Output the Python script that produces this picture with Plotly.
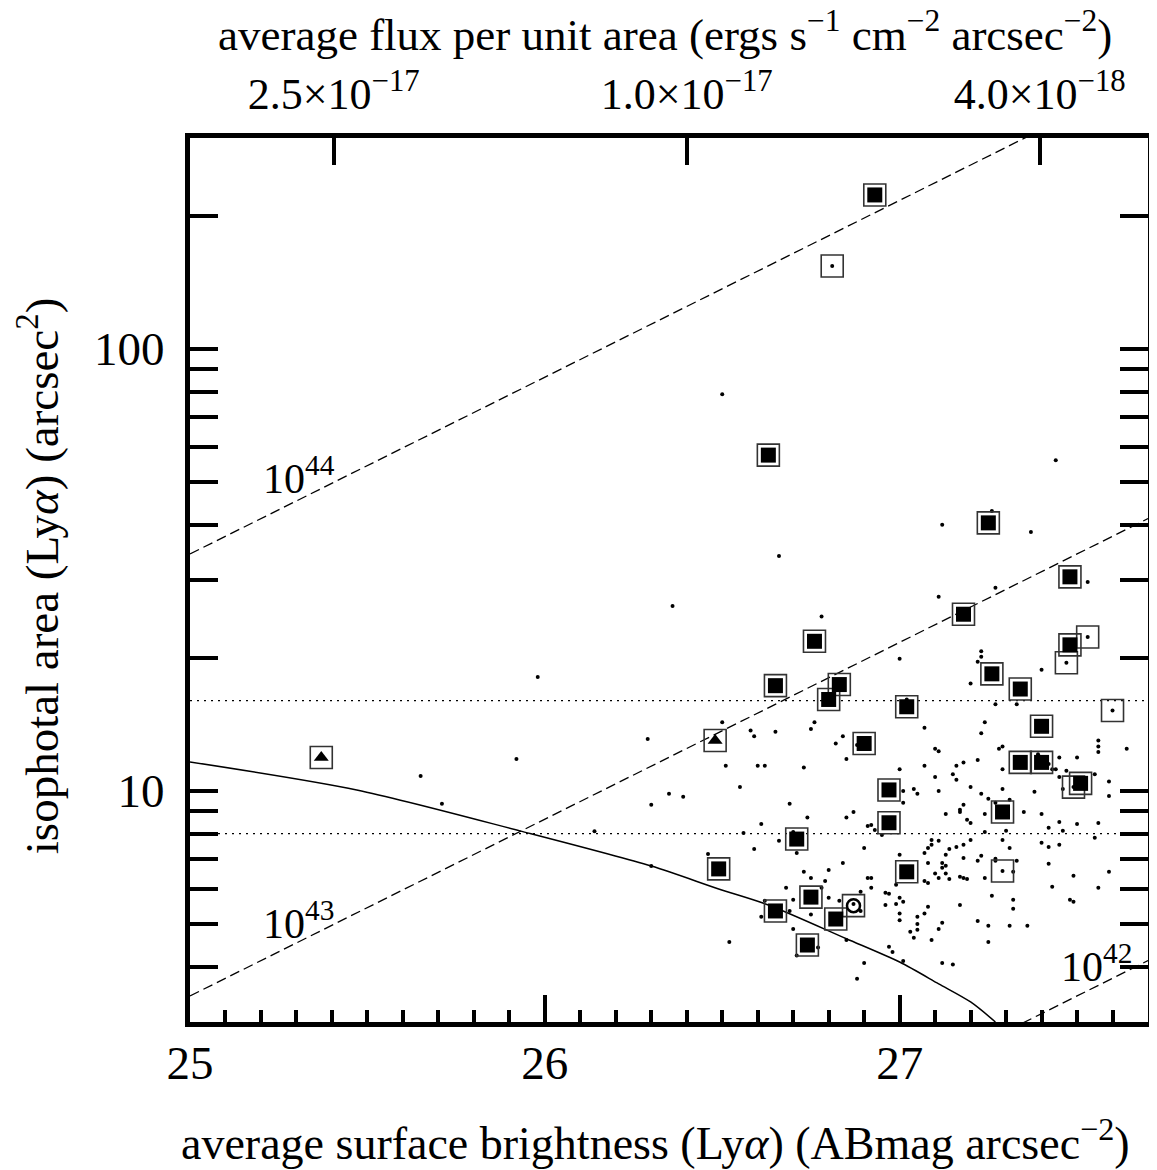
import numpy as np
import plotly.graph_objects as go

# ---------------- data ----------------
dot_mag = [
26.50, 26.66, 26.36, 27.44, 27.12, 27.26, 27.37, 27.11, 27.27, 27.53,
25.98, 26.29, 25.92, 26.35, 26.39, 26.30, 26.14, 25.65, 25.71, 26.30,
26.46, 26.78, 27.00, 26.50, 26.58, 26.59, 26.65, 26.76, 26.75, 26.84,
26.82, 26.88, 26.85, 26.51, 26.60, 26.62, 26.73, 27.00, 26.55, 27.01,
27.04, 27.05, 27.01, 26.69, 26.87, 26.74, 26.85, 26.61, 26.91, 26.92,
26.93, 26.95, 26.56, 26.66, 26.70, 26.90, 26.59, 27.23, 27.23, 27.22,
27.40, 27.20, 27.02, 27.27, 27.33, 27.24, 27.07, 27.23, 27.56, 27.56,
27.56, 27.64, 27.10, 27.11, 27.29, 27.28, 27.39, 27.45, 27.50, 27.22,
27.18, 27.16, 27.07, 27.29, 27.42, 27.43, 27.44, 27.47, 27.55, 27.15,
27.10, 27.16, 27.45, 27.59, 27.20, 27.46, 27.49, 27.29, 27.11, 27.38,
27.23, 27.59, 27.25, 27.27, 27.31, 27.18, 27.17, 27.17, 27.13, 27.24,
27.35, 27.40, 27.19, 27.20, 27.45, 27.56, 27.50, 27.42, 27.46, 27.24,
27.30, 27.55, 27.09, 27.11, 27.09, 27.08, 27.18, 27.16, 27.20, 27.29,
27.40, 27.42, 27.45, 27.31, 27.14, 26.71, 27.00, 26.84, 26.80, 26.73,
26.75, 26.79, 26.91, 26.92, 26.92, 26.99, 26.78, 26.68, 26.89, 26.96,
26.97, 27.00, 27.01, 26.99, 26.96, 26.80, 26.83, 26.70, 26.62, 26.69,
26.87, 26.89, 26.61, 26.75, 27.00, 27.00, 26.70, 27.03, 27.04, 27.05,
27.05, 27.05, 26.85, 26.52, 26.77, 26.71, 26.97, 26.98, 27.01, 26.90,
26.88, 27.07, 27.13, 27.23, 27.22, 27.18, 27.08, 27.12, 27.13, 27.12,
27.27, 27.27, 27.33, 27.42, 27.10, 27.11, 27.13, 27.14, 27.17, 27.18,
27.19, 27.24, 27.29, 27.32, 27.49, 27.59, 27.07, 27.08, 27.43, 27.56,
27.26, 27.32, 27.48, 27.49, 27.17, 27.08, 27.32, 27.07, 27.12, 27.11,
27.22, 27.25, 27.31, 27.36, 27.09, 27.25, 27.12, 27.15,
26.81, 27.53, 27.47, 27.60]

dot_area = [
79, 34.0, 26.2, 56, 40.0, 43.0, 38.5, 27.5, 28.8, 29.7,
18.1, 13.1, 11.8, 9.85, 9.7, 9.3, 8.1, 10.8, 9.35, 6.76,
7.2, 24.8, 19.9, 14.3, 13.7, 13.3, 13.6, 14.3, 13.8, 13.3,
12.8, 12.7, 11.8, 11.4, 11.4, 11.4, 11.3, 11.2, 10.2, 10.0,
10.1, 9.85, 9.4, 9.35, 8.96, 8.7, 8.7, 8.42, 8.33, 8.37,
8.16, 7.95, 8.03, 7.71, 8.07, 7.43, 7.39, 20.7, 20.1, 19.6,
18.8, 17.5, 16.1, 15.7, 15.7, 14.3, 13.9, 13.5, 13.0, 12.6,
12.25, 12.45, 12.45, 12.3, 12.6, 12.45, 12.1, 11.9, 11.9, 11.75,
11.6, 11.4, 11.4, 11.2, 11.5, 11.2, 11.2, 11.1, 10.9, 10.9,
10.75, 10.6, 10.75, 10.5, 10.2, 10.1, 10.2, 10.1, 10.0, 9.95,
9.85, 9.74, 9.6, 9.4, 9.55, 9.3, 9.06, 8.96, 8.87, 8.87,
8.96, 8.87, 8.6, 8.46, 8.5, 8.46, 8.42, 8.25, 8.12, 8.07,
8.12, 7.83, 7.74, 7.71, 7.55, 7.43, 7.55, 7.47, 7.74, 7.74,
7.63, 7.47, 7.55, 7.43, 7.39, 7.24, 7.17, 6.87, 6.62, 6.56,
6.35, 6.25, 6.35, 6.35, 6.04, 6.13, 6.04, 6.04, 5.91, 5.88,
5.85, 5.73, 5.61, 5.55, 5.52, 5.73, 5.64, 5.67, 5.64, 5.35,
5.55, 5.35, 5.19, 5.25, 5.28, 5.1, 4.87, 4.80, 4.65, 5.19,
5.0, 4.85, 4.6, 4.55, 4.42, 4.24, 4.44, 4.32, 4.12, 4.08,
3.76, 7.24, 7.17, 7.13, 6.95, 7.05, 6.87, 6.87, 6.77, 6.70,
7.02, 6.95, 6.95, 6.84, 6.5, 6.35, 6.5, 6.32, 6.39, 6.35,
6.32, 6.35, 6.59, 6.56, 6.43, 6.56, 6.25, 6.19, 6.07, 6.04,
5.79, 5.67, 5.67, 5.61, 5.52, 5.47, 5.41, 5.28, 5.03, 4.87,
5.08, 4.95, 4.95, 4.95, 4.6, 4.55, 4.08, 4.05,
154, 22.3, 19.5, 15.2]

# filled squares (each enclosed by an open square)
filled_mag = [26.93, 26.63, 27.25, 27.48, 27.18, 27.48, 26.76, 26.65, 26.83, 26.80,
              27.26, 27.34, 27.02, 27.40, 26.90, 27.34, 27.40, 26.97, 27.51, 27.29,
              26.97, 26.71, 26.49, 27.02, 26.75, 26.65, 26.82, 26.74]
filled_area = [223, 57.5, 40.4, 30.5, 25.1, 21.4, 21.8, 17.3, 17.4, 16.1,
               18.4, 17.0, 15.5, 14.0, 12.8, 11.6, 11.6, 10.05, 10.4, 8.96,
               8.47, 7.78, 6.66, 6.56, 5.75, 5.35, 5.13, 4.48]

# open squares surrounding plain dots
open_mag = [26.81, 27.53, 27.47, 27.60, 27.49, 27.29]
open_area = [154, 22.3, 19.5, 15.2, 10.2, 6.59]

# triangles (enclosed by open squares)
tri_mag = [26.48, 25.37]
tri_area = [13.0, 11.9]

# circle (enclosed by open square)
circ_mag = [26.87]
circ_area = [5.50]

# limiting curve
curve_mag = [25.00, 25.47, 25.93, 26.30, 26.49, 26.63, 26.85, 27.00, 27.11, 27.20, 27.27]
curve_area = [11.63, 10.05, 8.12, 6.76, 6.0, 5.52, 4.63, 4.10, 3.66, 3.33, 3.0]

# constant-luminosity lines: log10(area) = 0.4*(mag-25) + intercept
lum_exp = [42, 43, 44]
lum_intercept_43 = 0.536

# horizontal dotted reference areas
ref_areas = [16, 8]

# top-axis flux ticks (ergs s^-1 cm^-2 arcsec^-2)
flux_ticks = [2.5e-17, 1.0e-17, 4.0e-18]
flux_labels = ["2.5×10<sup>−17</sup>", "1.0×10<sup>−17</sup>", "4.0×10<sup>−18</sup>"]
mag_of_1e17 = 26.4

xr = [25.0, 27.7]
yr = [3.0, 300.0]

FONT = "Liberation Serif, Times New Roman, serif"

fig = go.Figure()

xx = np.array(xr)
for e in lum_exp:
    c = lum_intercept_43 + (e - 43)
    fig.add_trace(go.Scatter(x=xx, y=10 ** (0.4 * (xx - 25) + c), mode="lines",
                             line=dict(color="black", width=1.3, dash="10px,5px"),
                             hoverinfo="skip", showlegend=False))
for a in ref_areas:
    fig.add_trace(go.Scatter(x=xx, y=[a, a], mode="lines",
                             line=dict(color="black", width=1.3, dash="2px,5px"),
                             hoverinfo="skip", showlegend=False))
fig.add_trace(go.Scatter(x=curve_mag, y=curve_area, mode="lines",
                         line=dict(color="black", width=1.5, shape="spline", smoothing=0.8),
                         showlegend=False))

fig.add_trace(go.Scatter(x=dot_mag, y=dot_area, mode="markers",
                         marker=dict(symbol="circle", size=4, color="black"),
                         showlegend=False))

enc_mag = filled_mag + open_mag + tri_mag + circ_mag
enc_area = filled_area + open_area + tri_area + circ_area
fig.add_trace(go.Scatter(x=enc_mag, y=enc_area, mode="markers",
                         marker=dict(symbol="square-open", size=22, color="#333",
                                     line=dict(width=1.6, color="#333")),
                         showlegend=False))
fig.add_trace(go.Scatter(x=filled_mag, y=filled_area, mode="markers",
                         marker=dict(symbol="square", size=15, color="black",
                                     line=dict(width=0)),
                         showlegend=False))
fig.add_trace(go.Scatter(x=tri_mag, y=tri_area, mode="markers",
                         marker=dict(symbol="triangle-up", size=13, color="black",
                                     line=dict(width=0)),
                         showlegend=False))
fig.add_trace(go.Scatter(x=circ_mag, y=circ_area, mode="markers",
                         marker=dict(symbol="circle-open", size=13, color="black",
                                     line=dict(width=2.5, color="black")),
                         showlegend=False))

# invisible trace for the top axis
fig.add_trace(go.Scatter(x=xr, y=[10, 10], xaxis="x2", mode="markers",
                         marker=dict(opacity=0), hoverinfo="skip", showlegend=False))

flux_pos = [mag_of_1e17 - 2.5 * np.log10(f / 1e-17) for f in flux_ticks]

ann_font = dict(size=42, family=FONT, color="black")
fig.add_annotation(x=25.20, y=1.714, text="10<sup>44</sup>", showarrow=False,
                   xanchor="left", yanchor="middle", font=ann_font)
fig.add_annotation(x=25.20, y=0.706, text="10<sup>43</sup>", showarrow=False,
                   xanchor="left", yanchor="middle", font=ann_font)
fig.add_annotation(x=27.449, y=0.609, text="10<sup>42</sup>", showarrow=False,
                   xanchor="left", yanchor="middle", font=ann_font)

# axis titles placed as annotations
fig.add_annotation(xref="paper", yref="paper", x=-0.158, y=0.505,
                   text="isophotal area (Ly<i>α</i>) (arcsec<sup>2</sup>)",
                   textangle=-90, showarrow=False, xanchor="center", yanchor="middle",
                   font=dict(size=47, family=FONT, color="black"))
fig.add_annotation(xref="paper", yref="paper", x=0.4854, y=-0.1335,
                   text="average surface brightness (Ly<i>α</i>) (ABmag arcsec<sup>−2</sup>)",
                   showarrow=False, xanchor="center", yanchor="middle",
                   font=dict(size=46, family=FONT, color="black"))
fig.add_annotation(xref="paper", yref="paper", x=0.4958, y=1.1205,
                   text="average flux per unit area (ergs s<sup>−1</sup> cm<sup>−2</sup> arcsec<sup>−2</sup>)",
                   showarrow=False, xanchor="center", yanchor="middle",
                   font=dict(size=45, family=FONT, color="black"))

fig.update_layout(
    width=1149, height=1162,
    margin=dict(l=182, r=9, t=130, b=148, autoexpand=False),
    paper_bgcolor="white", plot_bgcolor="white",
    font=dict(family=FONT, color="black", size=40),
    xaxis=dict(range=xr, tickvals=[25, 26, 27], ticktext=["25", "26", "27"],
               automargin=False,
               ticks="inside", ticklen=27, tickwidth=4, tickcolor="black",
               minor=dict(dtick=0.1, tick0=25, ticks="inside", ticklen=12, tickwidth=3.5, tickcolor="black"),
               showline=True, linewidth=5, linecolor="black", mirror=True,
               showgrid=False, zeroline=False,
               tickfont=dict(size=47, family=FONT), ticklabelstandoff=-4),
    xaxis2=dict(range=xr, overlaying="x", side="top", tickvals=flux_pos, ticktext=flux_labels,
                automargin=False,
                ticks="inside", ticklen=27, tickwidth=4, tickcolor="black",
                showline=False, showgrid=False, zeroline=False,
                tickfont=dict(size=44, family=FONT), ticklabelstandoff=19),
    yaxis=dict(type="log", range=[np.log10(yr[0]), np.log10(yr[1])],
               tickvals=[10, 100], ticktext=["10", "100"],
               automargin=False,
               ticks="inside", ticklen=28, tickwidth=4, tickcolor="black",
               minor=dict(tickvals=[3, 4, 5, 6, 7, 8, 9, 20, 30, 40, 50, 60, 70, 80, 90, 200, 300],
                          ticks="inside", ticklen=14, tickwidth=4, tickcolor="black"),
               showline=True, linewidth=5, linecolor="black", mirror="allticks",
               showgrid=False, zeroline=False,
               tickfont=dict(size=47, family=FONT), ticklabelstandoff=11),
)

fig.write_html("out.html")
